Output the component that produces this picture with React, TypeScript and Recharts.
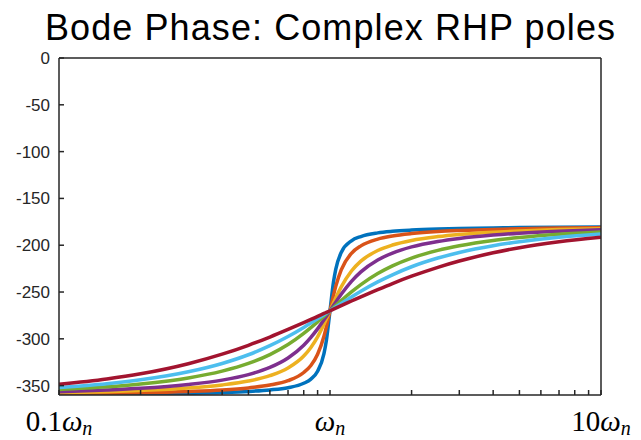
import { LineChart, Line, XAxis, YAxis } from 'recharts'

// frequency in units of wn
const FREQ = [0.1, 0.15, 0.2, 0.3, 0.4, 0.5, 0.6, 0.7, 0.8, 0.85, 0.9, 0.95, 0.97, 1, 1.03, 1.05, 1.1, 1.2, 1.3, 1.5, 1.7, 2, 2.5, 3, 4, 5, 7, 10]

// phase (deg) for each damping ratio
const Z005 = [-359.4, -359.1, -358.8, -358.1, -357.3, -356.2, -354.6, -352.2, -347.5, -343.0, -334.6, -315.7, -301.4, -270, -239.4, -225.7, -207.7, -195.3, -190.7, -186.8, -185.1, -183.8, -182.7, -182.1, -181.5, -181.2, -180.8, -180.6]
const Z01 = [-358.8, -358.2, -357.6, -356.2, -354.6, -352.4, -349.4, -344.7, -336.0, -328.5, -316.5, -297.2, -286.9, -270, -253.5, -244.0, -226.3, -208.6, -200.7, -193.5, -190.2, -187.6, -185.4, -184.3, -183.1, -182.4, -181.7, -181.2]
const Z02 = [-357.7, -356.5, -355.2, -352.5, -349.2, -345.1, -339.4, -331.2, -318.4, -309.2, -297.8, -284.4, -278.7, -270, -261.6, -256.3, -244.5, -227.5, -217.0, -205.6, -199.8, -194.9, -190.8, -188.5, -186.1, -184.8, -183.3, -182.3]
const Z03 = [-356.5, -354.7, -352.9, -348.8, -344.1, -338.2, -330.6, -320.5, -306.9, -298.5, -289.4, -279.7, -275.8, -270, -264.4, -260.8, -252.4, -238.6, -228.5, -215.8, -208.4, -201.8, -196.0, -192.7, -189.1, -187.1, -185.0, -183.5]
const Z05 = [-354.2, -351.3, -348.2, -341.8, -334.5, -326.3, -316.8, -306.1, -294.2, -288.1, -281.9, -275.9, -273.5, -270, -266.6, -264.4, -259.2, -249.9, -242.0, -230.2, -222.0, -213.7, -205.5, -200.6, -194.9, -191.8, -188.3, -185.8]
const Z07 = [-352.0, -347.9, -343.7, -335.2, -326.3, -317.0, -307.3, -297.5, -287.8, -283.1, -278.6, -274.2, -272.5, -270, -267.6, -266.0, -262.2, -255.3, -249.2, -239.2, -231.6, -223.0, -213.7, -207.7, -200.5, -196.3, -191.5, -188.1]
const Z1 = [-348.6, -342.9, -337.4, -326.6, -316.4, -306.9, -298.1, -290.0, -282.7, -279.3, -276.0, -272.9, -271.7, -270, -268.3, -267.2, -264.5, -259.6, -255.1, -247.4, -240.9, -233.1, -223.6, -216.9, -208.1, -202.6, -196.3, -191.4]

const SERIES = [
  { key: 'z005', values: Z005, color: '#0072BD' },
  { key: 'z01', values: Z01, color: '#D95319' },
  { key: 'z02', values: Z02, color: '#EDB120' },
  { key: 'z03', values: Z03, color: '#7E2F8E' },
  { key: 'z05', values: Z05, color: '#77AC30' },
  { key: 'z07', values: Z07, color: '#4DBEEE' },
  { key: 'z1', values: Z1, color: '#A2142F' },
]

const MAJOR_X = [0.1, 1, 10]
const MAJOR_X_LABELS = ['0.1', '', '10']
const MINOR_X = [0.2, 0.3, 0.4, 0.5, 0.6, 0.7, 0.8, 0.9, 2, 3, 4, 5, 6, 7, 8, 9]
const X_TICKS = [...MAJOR_X, ...MINOR_X].sort((a, b) => a - b)
const Y_TICKS = [-350, -300, -250, -200, -150, -100, -50, 0]

const data = FREQ.map((f, i) => {
  const row: Record<string, number> = { f }
  SERIES.forEach((s) => (row[s.key] = s.values[i]))
  return row
})

const AXIS = '#262626'

function FreqTick(props: any) {
  const { x, y, payload } = props
  const idx = MAJOR_X.indexOf(payload.value)
  if (idx < 0) return null
  return (
    <text
      x={x}
      y={y + 41}
      textAnchor="middle"
      fontFamily="'Liberation Serif', serif"
      fontSize={29}
      fill="#000"
    >
      {MAJOR_X_LABELS[idx]}
      <tspan fontStyle="italic">ω</tspan>
      <tspan fontStyle="italic" fontSize={20} dy={4}>n</tspan>
    </text>
  )
}

export default function App() {
  return (
    <div style={{ position: 'absolute', left: 0, top: 0, width: 641, height: 440, background: '#fff' }}>
      <svg width={641} height={56} style={{ position: 'absolute', left: 0, top: 0 }}>
        <text
          x={330}
          y={40}
          textAnchor="middle"
          fontFamily="'Liberation Sans', Arial, sans-serif"
          fontSize={36}
          textLength={570}
          lengthAdjust="spacing"
          fill="#000"
        >
          Bode Phase: Complex RHP poles
        </text>
      </svg>
      <LineChart
        width={641}
        height={440}
        data={data}
        margin={{ top: 57, right: 39, bottom: 0, left: 0 }}
      >
        <XAxis
          dataKey="f"
          type="number"
          scale="log"
          domain={[0.1, 10]}
          ticks={X_TICKS}
          interval={0}
          allowDataOverflow
          height={45}
          tickSize={-5}
          tickMargin={0}
          stroke={AXIS}
          strokeWidth={1.5}
          tick={<FreqTick />}
        />
        <XAxis
          xAxisId="top"
          orientation="top"
          dataKey="f"
          type="number"
          scale="log"
          domain={[0.1, 10]}
          ticks={X_TICKS}
          interval={0}
          allowDataOverflow
          height={1}
          tickSize={-5}
          tick={false}
          stroke={AXIS}
          strokeWidth={1.5}
        />
        <YAxis
          yAxisId="left"
          type="number"
          domain={[-360, 0]}
          ticks={Y_TICKS}
          interval={0}
          allowDataOverflow
          width={59}
          tickSize={-5}
          tickMargin={14}
          stroke={AXIS}
          strokeWidth={1.5}
          tick={{ fill: '#262626', fontSize: 17, fontFamily: "'Liberation Sans', Arial, sans-serif" }}
        />
        <YAxis
          yAxisId="right"
          orientation="right"
          type="number"
          domain={[-360, 0]}
          ticks={Y_TICKS}
          interval={0}
          allowDataOverflow
          width={1}
          tickSize={-5}
          tick={false}
          stroke={AXIS}
          strokeWidth={1.5}
        />
        {SERIES.map((s) => (
          <Line
            key={s.key}
            yAxisId="left"
            type="monotone"
            dataKey={s.key}
            stroke={s.color}
            strokeWidth={3.5}
            dot={false}
            isAnimationActive={false}
          />
        ))}
      </LineChart>
    </div>
  )
}
